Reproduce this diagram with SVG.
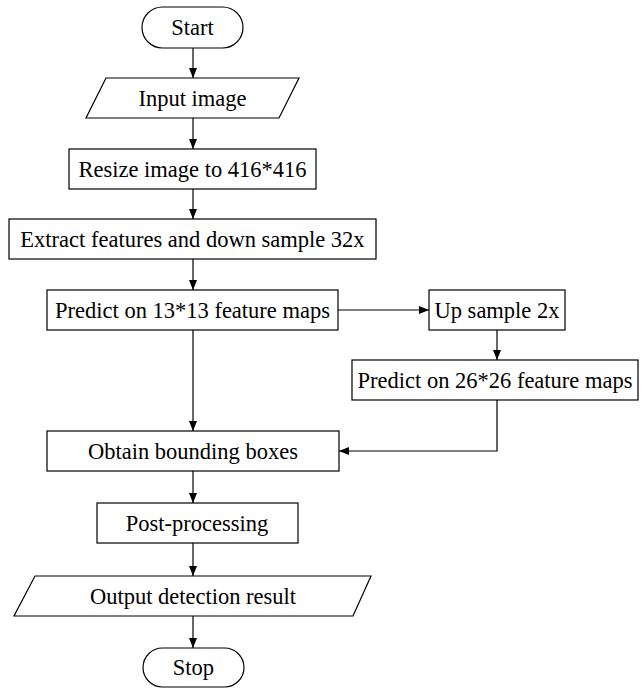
<svg xmlns="http://www.w3.org/2000/svg" width="641" height="688" viewBox="0 0 641 688">
<defs>
<style>
.s{fill:#fff;stroke:#000;stroke-width:1.2}
.t{font-family:"Liberation Serif","Times New Roman",serif;font-size:22.5px;fill:#000;text-anchor:middle;dominant-baseline:central}
.c{fill:none;stroke:#000;stroke-width:1.2;marker-end:url(#a)}
</style>
<marker id="a" viewBox="0 0 10 10" refX="10" refY="5" markerWidth="10" markerHeight="10" markerUnits="userSpaceOnUse" orient="auto">
<path d="M0,1 L10,5 L0,9 Z" fill="#000"/>
</marker>
</defs>
<rect width="641" height="688" fill="#fff"/>
<g id="connectors">
<path class="c" d="M193,48 V78"/>
<path class="c" d="M193,118 V149"/>
<path class="c" d="M193,189 V219"/>
<path class="c" d="M193,259 V290"/>
<path class="c" d="M193,330 V431"/>
<path class="c" d="M338,310 H429"/>
<path class="c" d="M497,330 V360"/>
<path class="c" d="M497,400 V451 H339"/>
<path class="c" d="M193,471 V503"/>
<path class="c" d="M193,543 V576"/>
<path class="c" d="M193,616 V648"/>
</g>
<g id="start"><rect class="s" x="142" y="7" width="101" height="41" rx="20.5"/><text class="t" x="192.5" y="27.5">Start</text></g>
<g id="input"><polygon class="s" points="106,78 299,78 279,118 86,118"/><text class="t" x="192.5" y="98">Input image</text></g>
<g id="resize"><rect class="s" x="69" y="149" width="247" height="40"/><text class="t" x="192.5" y="169">Resize image to 416*416</text></g>
<g id="extract"><rect class="s" x="9" y="219" width="367" height="40"/><text class="t" x="192.5" y="239">Extract features and down sample 32x</text></g>
<g id="predict13"><rect class="s" x="47" y="290" width="291" height="40"/><text class="t" x="192.5" y="310">Predict on 13*13 feature maps</text></g>
<g id="upsample"><rect class="s" x="429" y="290" width="136" height="40"/><text class="t" x="497" y="310">Up sample 2x</text></g>
<g id="predict26"><rect class="s" x="352" y="360" width="286" height="40"/><text class="t" x="495" y="380">Predict on 26*26 feature maps</text></g>
<g id="obtain"><rect class="s" x="47" y="431" width="292" height="40"/><text class="t" x="193" y="451">Obtain bounding boxes</text></g>
<g id="post"><rect class="s" x="97" y="503" width="201" height="40"/><text class="t" x="197" y="523">Post-processing</text></g>
<g id="output"><polygon class="s" points="35,576 371,576 353,616 14,616"/><text class="t" x="193" y="596">Output detection result</text></g>
<g id="stop"><rect class="s" x="143" y="648" width="101" height="39" rx="19.5"/><text class="t" x="193.5" y="667.5">Stop</text></g>
</svg>
